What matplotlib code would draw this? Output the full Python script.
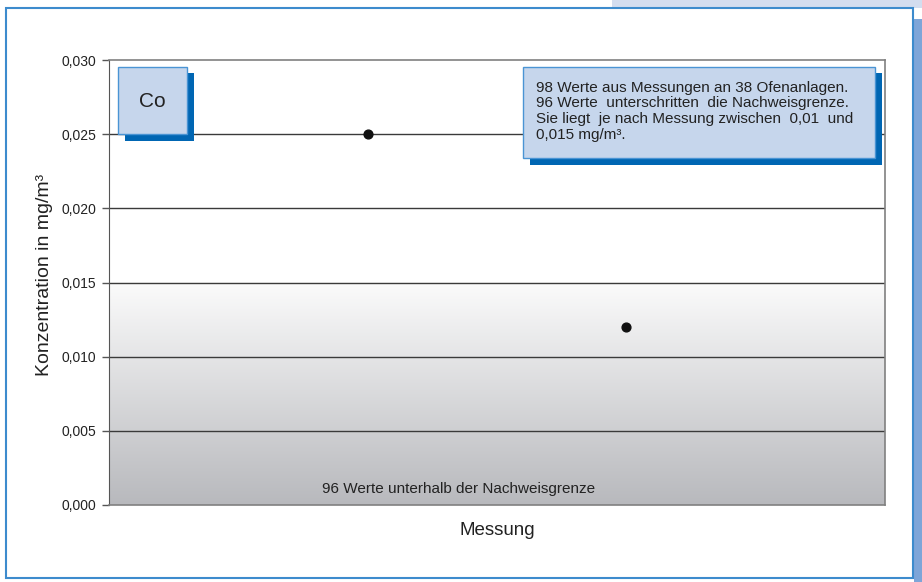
import matplotlib
matplotlib.use("Agg")
import matplotlib.pyplot as plt
import numpy as np
from matplotlib.patches import Rectangle
from matplotlib.colors import LinearSegmentedColormap

plt.rcParams['font.family'] = ['Liberation Sans', 'DejaVu Sans']

# Data
x_vals = [1, 2]
y_vals = [0.025, 0.012]
y_ticks = [0.000, 0.005, 0.010, 0.015, 0.020, 0.025, 0.030]
y_tick_labels = ["0,000", "0,005", "0,010", "0,015", "0,020", "0,025", "0,030"]
detection_limit = 0.015
element = "Co"
info_lines = ["98 Werte aus Messungen an 38 Ofenanlagen.",
              "96 Werte  unterschritten  die Nachweisgrenze.",
              "Sie liegt  je nach Messung zwischen  0,01  und",
              "0,015 mg/m³."]
below_note = "96 Werte unterhalb der Nachweisgrenze"

W, H = 922, 582
fig = plt.figure(figsize=(W / 100, H / 100), dpi=100)
fig.patch.set_facecolor('white')

def fx(px):
    return px / W

def fy(py):
    return 1 - py / H

def frect(x0, y0, x1, y1, **kw):
    r = Rectangle((fx(x0), fy(y1)), fx(x1) - fx(x0), fy(y0) - fy(y1),
                  transform=fig.transFigure, **kw)
    fig.add_artist(r)
    return r

# decorative page elements
frect(612, 0, 922, 8, facecolor='#d3ddef', edgecolor='none', zorder=0)
frect(914, 19, 922, 582, facecolor='#7ea5d8', edgecolor='none', zorder=0)
frect(6, 8, 913, 578, facecolor='white', edgecolor='#3d8bcd', linewidth=1.5, zorder=0.5)

ax = fig.add_axes([fx(109), fy(505), fx(885) - fx(109), fy(60) - fy(505)])
ax.set_zorder(1)
ax.set_facecolor('white')
ax.set_xlim(0, 3)
ax.set_ylim(0, 0.030)

# gradient below detection limit
cmap = LinearSegmentedColormap.from_list('g', ['#b8b9bd', '#fbfbfb'])
grad = np.linspace(0, 1, 256).reshape(-1, 1)
ax.imshow(grad, extent=[0, 3, 0, detection_limit], origin='lower', cmap=cmap,
          aspect='auto', zorder=0, interpolation='bicubic')

for yt in y_ticks[1:-1]:
    ax.axhline(yt, color='#3a3a3a', linewidth=1.0, zorder=1)

ax.scatter(x_vals, y_vals, s=40, color='#111111', zorder=3)

ax.set_yticks(y_ticks)
ax.set_yticklabels(y_tick_labels, fontsize=10, color='#222222')
ax.set_xticks([])
ax.tick_params(axis='y', length=5, width=1, color='#555555', pad=4)
for s in ['top', 'right', 'bottom']:
    ax.spines[s].set_color('#808080')
    ax.spines[s].set_linewidth(1.2)
ax.spines['left'].set_color('#555555')

ax.set_ylabel("Konzentration in mg/m³", fontsize=14, color='#222222')
ax.yaxis.label.set_va('center')
ax.yaxis.set_label_coords(-0.083, 0.517)
ax.set_xlabel("Messung", fontsize=13.5, color='#222222', labelpad=12)

ax.text(1.353, 0.00105, below_note, fontsize=11, color='#222222',
        ha='center', va='center', zorder=4)

# Element box
frect(125, 73, 194, 141, facecolor='#0066b3', edgecolor='none', zorder=5)
frect(118, 67, 187, 134, facecolor='#c6d6ec', edgecolor='#4a94d4', linewidth=1, zorder=6)
fig.text(fx(152.5), fy(101), element, fontsize=15, color='#222222', ha='center', va='center', zorder=7)

# Info box
frect(530, 73, 882, 165, facecolor='#0066b3', edgecolor='none', zorder=5)
frect(523, 67, 875, 158, facecolor='#c6d6ec', edgecolor='#4a94d4', linewidth=1, zorder=6)
for i, line in enumerate(info_lines):
    fig.text(fx(536), fy(88 + i * 15.5), line, fontsize=11, color='#222222',
             ha='left', va='center', zorder=7)

fig.savefig('out.png', dpi=100)
